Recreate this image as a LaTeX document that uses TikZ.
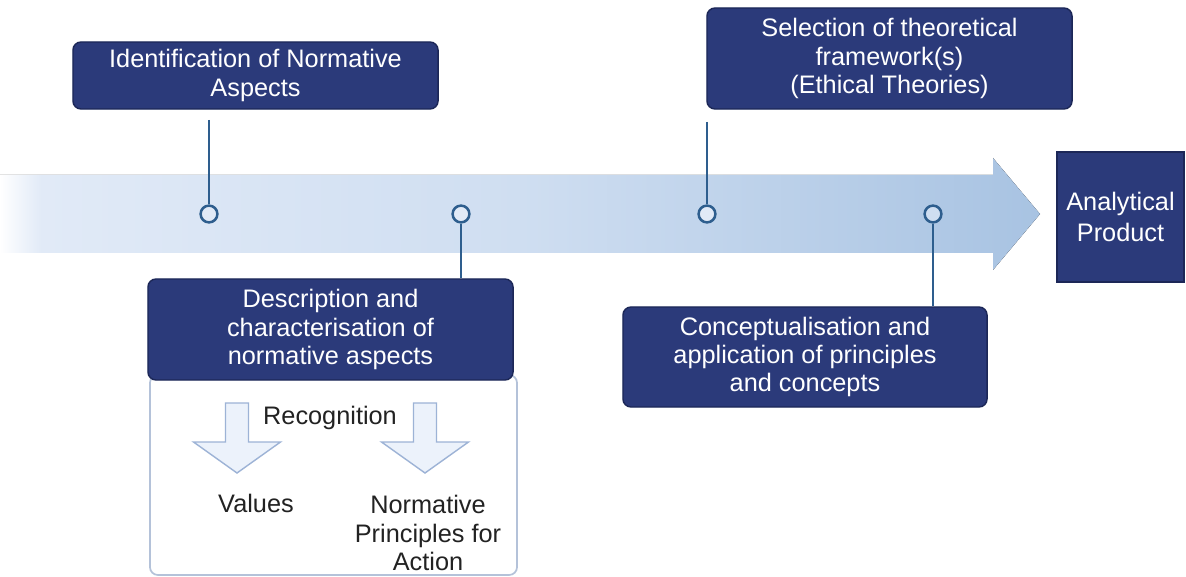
\documentclass[tikz,border=0pt]{standalone}
\usepackage{fontspec}
\setmainfont{Liberation Sans}
\usetikzlibrary{calc,positioning}
\definecolor{navy}{HTML}{2B3A7A}
\definecolor{navyedge}{HTML}{1C2757}
\definecolor{pinblue}{HTML}{2E5E8E}
\definecolor{flowA}{HTML}{E1EAF7}
\definecolor{flowB}{HTML}{CFDEF1}
\definecolor{flowC}{HTML}{A8C3E2}
\definecolor{panelgray}{HTML}{B4C2D9}
\definecolor{dnfill}{HTML}{ECF2FB}
\definecolor{dnedge}{HTML}{9DB3D6}
\definecolor{inktext}{HTML}{222222}
\pgfdeclarehorizontalshading{flowshade}{100bp}{color(0bp)=(white); color(25bp)=(white); color(27bp)=(flowA); color(50bp)=(flowB); color(75bp)=(flowC); color(100bp)=(flowC)}
\tikzset{
  stage/.style={draw=navyedge,fill=navy,text=white,rounded corners=0.2cm,line width=1pt,
    minimum width=9.125cm,align=center,font=\fontsize{18}{20}\selectfont},
  result/.style={draw=navyedge,fill=navy,text=white,line width=1pt,minimum width=3.175cm,
    minimum height=3.25cm,align=center,inner sep=0pt,font=\fontsize{18}{22}\selectfont},
  pin/.style={circle,draw=pinblue,fill=flowA,line width=1.8pt,minimum size=0.42cm,inner sep=0pt},
  stem/.style={draw=pinblue,line width=2pt},
  panel/.style={draw=panelgray,fill=white,rounded corners=0.2cm,line width=1.2pt},
  dnarrow/.style={draw=dnedge,fill=dnfill,line width=1pt,line join=miter},
  plain/.style={text=inktext,align=center,font=\fontsize{18}{20}\selectfont}
}

\begin{document}
\begin{tikzpicture}[x=0.025cm,y=-0.025cm]
  \useasboundingbox (0,0) rectangle (1186,577);

  % flow arrow
  \fill[shading=flowshade] (0,175) -- (993,175) -- (993,158) -- (1040,214)
    -- (993,270) -- (993,253) -- (0,253) -- cycle;

  \node[stage,minimum height=1.675cm] (ident) at (255.5,75.5) {Identification of Normative\\Aspects};
  \node[stage,minimum height=2.525cm] (select) at (889.5,58.5) {Selection of theoretical\\framework(s)\\(Ethical Theories)};
  \node[panel,minimum width=9.175cm,minimum height=5cm] (recbox) at (333.5,475) {};
  \node[stage,minimum height=2.525cm] (descr) at (330.5,329.5) {Description and\\characterisation of\\normative aspects};
  \node[stage,minimum width=9.1cm,minimum height=2.5cm] (concept) at (805,357) {Conceptualisation and\\application of principles\\and concepts};
  \node[result] (product) at (1120.5,217) {Analytical\\Product};

  \node[pin] (c1) at (209,214) {};
  \node[pin] (c2) at (461,214) {};
  \node[pin] (c3) at (707,214) {};
  \node[pin,fill=flowB] (c4) at (933,214) {};
  \coordinate (t1) at (209,120);
  \coordinate (t3) at (707,122);

  \draw[stem] (t1) -- (c1.north);
  \draw[stem] (t3) -- (c3.north);
  \draw[stem] (c2.south) -- (c2 |- descr.north);
  \draw[stem] (c4.south) -- (c4 |- concept.north);

  % recognition arrows
  \foreach \cx in {237,425}
    \draw[dnarrow] (\cx-11.5,403) -- (\cx+11.5,403) -- (\cx+11.5,442) -- (\cx+43.5,442)
      -- (\cx,473) -- (\cx-43.5,442) -- (\cx-11.5,442) -- cycle;

  \node[plain] (recog) at (330,418) {Recognition};
  \node[plain] (values) at (256,503) {Values};
  \node[plain] (normprin) at (428,533) {Normative\\Principles for\\Action};
\end{tikzpicture}
\end{document}
